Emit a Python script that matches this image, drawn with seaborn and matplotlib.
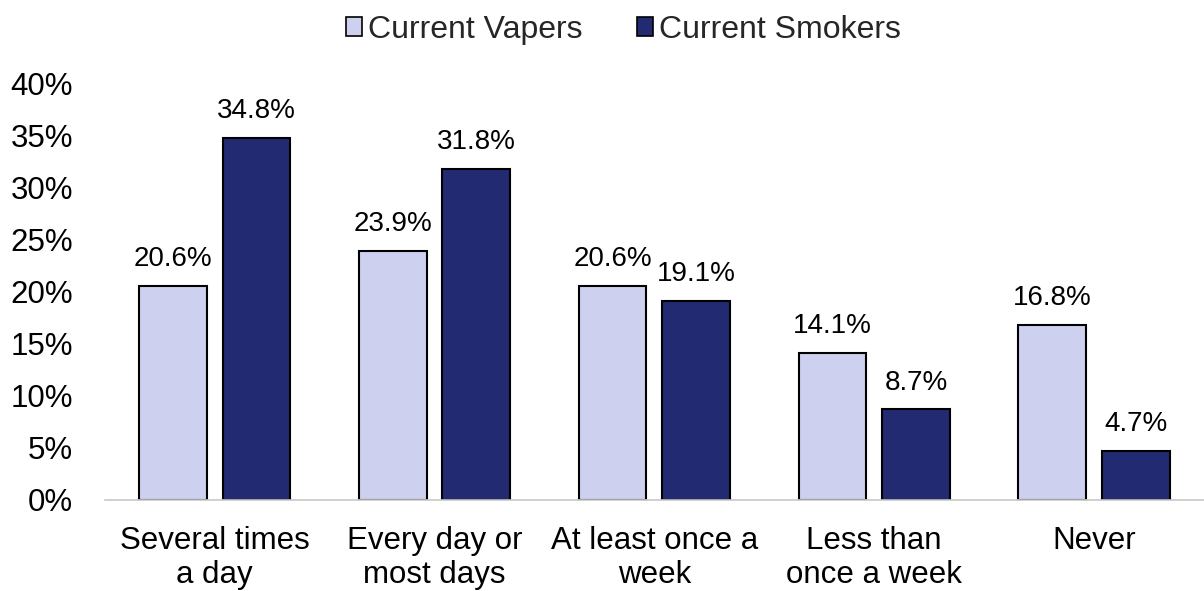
import pandas as pd
import matplotlib
matplotlib.use("Agg")
import matplotlib.pyplot as plt
import seaborn as sns
from matplotlib.ticker import PercentFormatter

categories = ["Several times\na day", "Every day or\nmost days", "At least once a\nweek",
              "Less than\nonce a week", "Never"]
vapers = [20.6, 23.9, 20.6, 14.1, 16.8]
smokers = [34.8, 31.8, 19.1, 8.7, 4.7]
series = ["Current Vapers", "Current Smokers"]
colors = ["#CDD0EE", "#222A72"]

df = pd.DataFrame({
    "category": categories * 2,
    "group": [series[0]] * len(categories) + [series[1]] * len(categories),
    "value": vapers + smokers,
})

sns.set_theme(style="white")
plt.rcParams["font.family"] = ["Liberation Sans", "DejaVu Sans"]

fig = plt.figure(figsize=(12.04, 5.91), dpi=100)
ax = fig.add_axes([0.087, 0.154, 0.913, 0.704])

sns.barplot(data=df, x="category", y="value", hue="group", palette=colors, saturation=1,
            width=0.76, gap=0.19, edgecolor="black", linewidth=1.5, ax=ax)

for cont in ax.containers:
    ax.bar_label(cont, fmt="%.1f%%", padding=10, fontsize=20, color="black")

ax.set_ylim(0, 40)
ax.set_yticks(range(0, 41, 5))
ax.yaxis.set_major_formatter(PercentFormatter(decimals=0))
ax.set_xlim(-0.5, 4.5)
ax.tick_params(axis="both", labelsize=22.5, length=0, colors="black")
ax.tick_params(axis="y", pad=23)
ax.tick_params(axis="x", pad=19)
for lab in ax.get_xticklabels():
    lab.set_linespacing(1.15)
ax.set_xlabel("")
ax.set_ylabel("")
for s in ["top", "right", "left"]:
    ax.spines[s].set_visible(False)
ax.spines["bottom"].set_color("#C8C8C8")
ax.spines["bottom"].set_linewidth(1.2)

leg = ax.legend(loc="center", bbox_to_anchor=(0.472, 1.13), ncol=2, frameon=False,
                fontsize=23, handlelength=0.5, handleheight=0.5, handletextpad=0.2,
                columnspacing=1.7)
for h in leg.legend_handles:
    h.set_edgecolor("black")
    h.set_linewidth(1.2)

fig.savefig("out.png", dpi=100)
